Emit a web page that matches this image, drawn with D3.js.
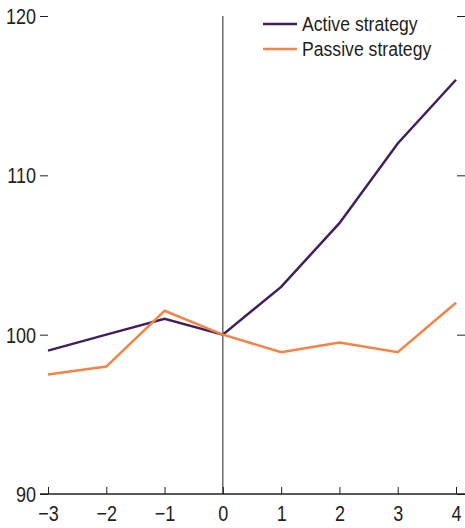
<!DOCTYPE html>
<html><head><meta charset="utf-8">
<script src="https://cdn.jsdelivr.net/npm/d3@7"></script>
<style>body{margin:0;background:#fff}svg{display:block}text{font-family:"Liberation Sans",Arial,sans-serif;fill:#231f20}</style>
</head><body><svg id="c" width="465" height="528"></svg>
<script>
const xValues = [-3,-2,-1,0,1,2,3,4];
const activeValues = [99,100,101,100,103,107,112,116];
const passiveValues = [97.5,98,101.5,100,98.9,99.5,98.9,102];
const yTicks = [90,100,110,120];
const seriesNames = ["Active strategy","Passive strategy"];
const colors = ["#3f1f5f","#f58345"];

const svg = d3.select("#c");
const x = d3.scaleLinear().domain([-3,4]).range([48,456]);
const y = d3.scaleLinear().domain([90,120]).range([494,16]);
const sx = 0.82;

// left ticks
const gl = svg.append("g").attr("transform","translate(48,0)")
  .call(d3.axisLeft(y).tickValues(yTicks).tickSize(8).tickPadding(3).tickFormat(d3.format("d")));
gl.select(".domain").remove();
gl.selectAll("line").attr("stroke","#231f20");
gl.selectAll("text").style("font-size","22px").attr("fill","#231f20")
  .attr("x",-12/sx).attr("dy","0.34em").attr("transform",`scale(${sx},1)`);
// right ticks
const gr = svg.append("g").attr("transform","translate(457,0)")
  .call(d3.axisRight(y).tickValues(yTicks).tickSize(8).tickFormat(""));
gr.select(".domain").remove();
gr.selectAll("line").attr("stroke","#231f20");

// bottom axis
const gb = svg.append("g").attr("transform","translate(0,494)")
  .call(d3.axisBottom(x).tickValues(xValues).tickSize(-7).tickPadding(11).tickFormat(d=>d<0?"\u2212"+Math.abs(d):d));
gb.select(".domain").remove();
gb.selectAll("line").attr("stroke","#231f20");
gb.selectAll("text").style("font-size","22px").attr("fill","#231f20").attr("transform",`scale(${sx},1)`);
svg.append("line").attr("x1",40).attr("x2",465).attr("y1",494).attr("y2",494).attr("stroke","#231f20").attr("stroke-width",1.3);

// zero vertical
svg.append("line").attr("x1",x(0)).attr("x2",x(0)).attr("y1",y(120)).attr("y2",y(90)).attr("stroke","#231f20").attr("stroke-width",1);

const line = d3.line().x((d,i)=>x(xValues[i])).y(d=>y(d));
[activeValues,passiveValues].forEach((vals,k)=>{
  svg.append("path").datum(vals).attr("d",line).attr("fill","none").attr("stroke",colors[k]).attr("stroke-width",2.5);
});

// legend
seriesNames.forEach((n,k)=>{
  const yy = 24 + k*25;
  svg.append("line").attr("x1",263).attr("x2",297).attr("y1",yy).attr("y2",yy).attr("stroke",colors[k]).attr("stroke-width",2.5);
  svg.append("text").attr("x",302/0.84).attr("y",yy+7).attr("transform","scale(0.84,1)").style("font-size","21px").text(n);
});
</script></body></html>
